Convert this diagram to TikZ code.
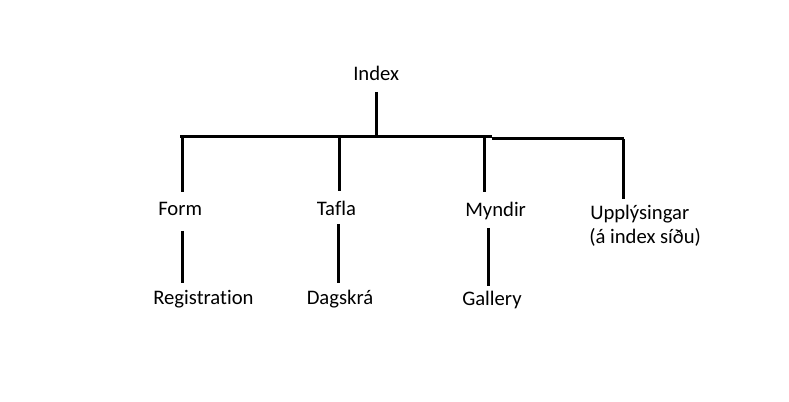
\documentclass[tikz,border=0pt]{standalone}
\usepackage{fontspec}
\setmainfont[Ligatures=NoCommon]{Carlito}
\begin{document}
\begin{tikzpicture}[x=0.75pt,y=-0.75pt,
  lbl/.style={inner sep=0pt,anchor=base west,font=\fontsize{15.5pt}{18pt}\selectfont},
  wire/.style={line width=2.25pt,line cap=butt}]
\useasboundingbox (0,0) rectangle (789,402);
\fill[white] (0,0) rectangle (789,402);
% labels
\node[lbl] (index) at (353,80.5) {Index};
\node[lbl] (form) at (158,216) {Form};
\node[lbl] (tafla) at (316.5,216) {Tafla};
\node[lbl] (myndir) at (465,216.5) {Myndir};
\node[lbl] (upp) at (590,219.5) {Upplýsingar};
\node[lbl] (upp2) at (589,244) {(á index síðu)};
\node[lbl] (reg) at (153,305) {Registration};
\node[lbl] (dag) at (306.5,305) {Dagskrá};
\node[lbl] (gal) at (462,305.5) {Gallery};
% coordinates
\coordinate (i1) at (376,92);
\coordinate (i2) at (376,136);
\coordinate (hL) at (180,137);
\coordinate (hM) at (492,137);
\coordinate (hM2) at (492,139);
\coordinate (hR) at (624,139);
\coordinate (f1) at (182,137);
\coordinate (f2) at (182,192);
\coordinate (t1) at (339,137);
\coordinate (t2) at (339,191);
\coordinate (m1) at (484,137);
\coordinate (m2) at (484,192);
\coordinate (u1) at (623,139);
\coordinate (u2) at (623,199);
\coordinate (fr1) at (182,231);
\coordinate (fr2) at (182,283);
\coordinate (td1) at (338,224);
\coordinate (td2) at (338,283);
\coordinate (mg1) at (488,228);
\coordinate (mg2) at (488,286);
% connectors
\draw[wire] (i1) -- (i2);
\draw[wire] (hL) -- (hM);
\draw[wire] (hM2) -- (hR);
\draw[wire] (f1) -- (f2);
\draw[wire] (t1) -- (t2);
\draw[wire] (m1) -- (m2);
\draw[wire] (u1) -- (u2);
\draw[wire] (fr1) -- (fr2);
\draw[wire] (td1) -- (td2);
\draw[wire] (mg1) -- (mg2);
\end{tikzpicture}
\end{document}
